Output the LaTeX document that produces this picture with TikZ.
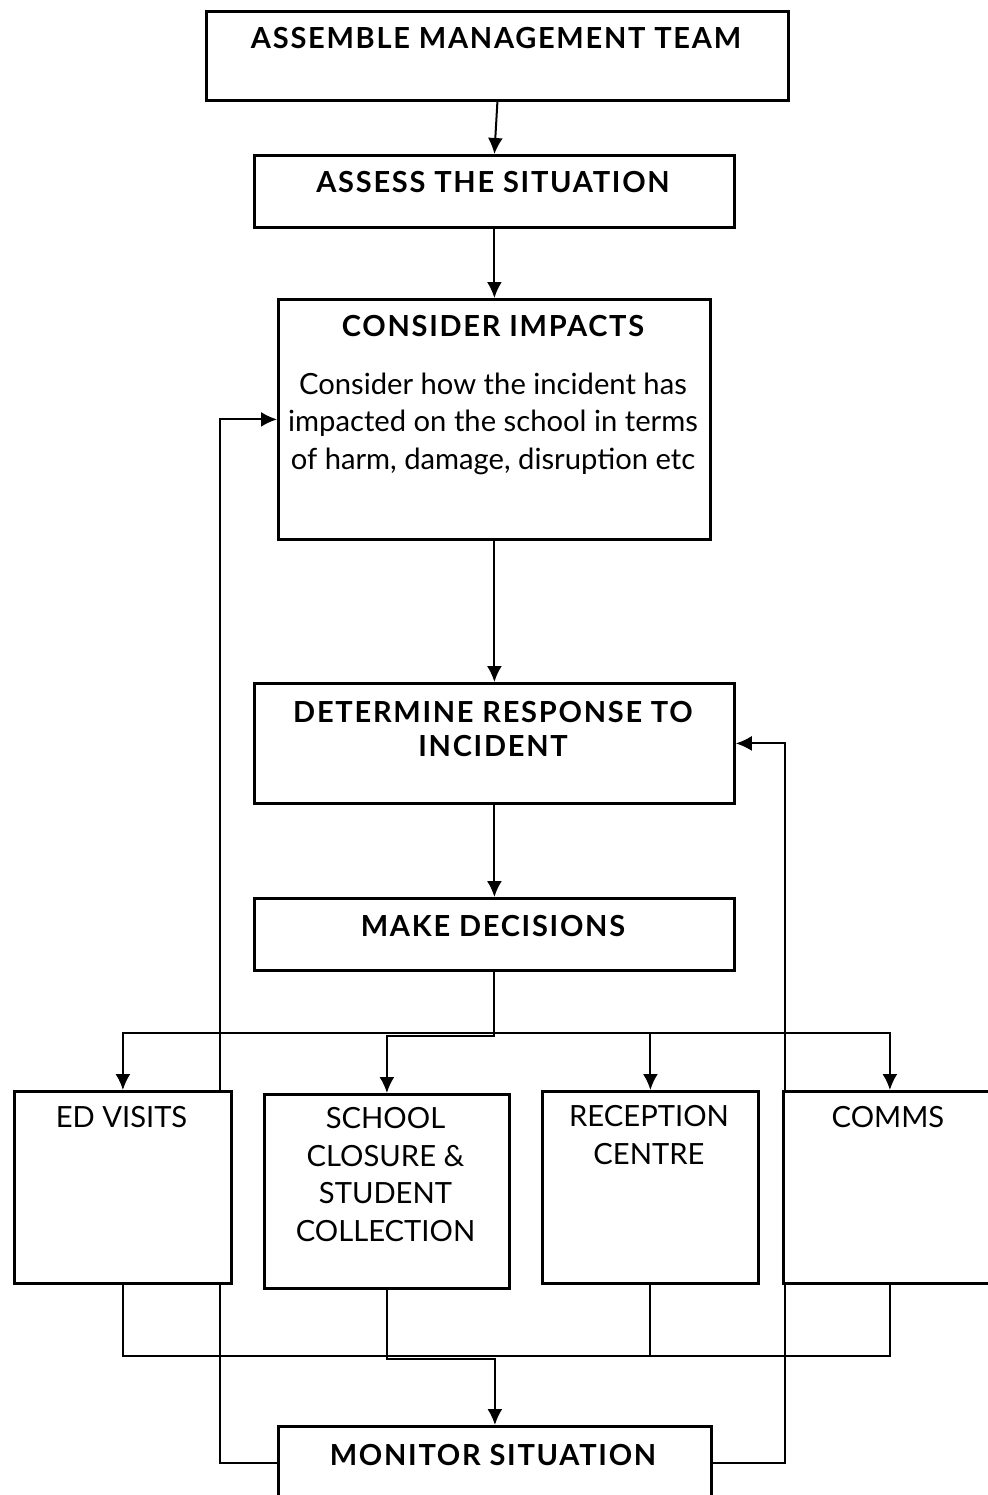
\documentclass[tikz,border=0pt]{standalone}
\usepackage{fontspec}
\setmainfont{Lato}
\newfontfamily\headfont[LetterSpace=6]{Lato}
\usetikzlibrary{arrows.meta,backgrounds}

\tikzset{
  box/.style={draw, line width=1.4pt, fill=white, inner sep=0pt, anchor=north west},
  head/.style={font=\headfont\bfseries\fontsize{14.5}{17}\selectfont, align=center, inner sep=0pt, anchor=base},
  txt/.style={font=\fontsize{14.6}{18.7}\selectfont, align=center, inner sep=0pt, anchor=base},
  link/.style={line width=1pt},
  arr/.style={link, -{Latex[length=8pt,width=7.5pt]}}
}

\begin{document}
\begin{tikzpicture}[x=0.5pt, y=-0.5pt]
\useasboundingbox (0,0) rectangle (987,1495);

% boxes
\node[box, minimum width=291pt, minimum height=44.5pt] (assemble) at (205,10) {};
\node[box, minimum width=240pt, minimum height=36pt] (assess) at (253,154) {};
\node[box, minimum width=216pt, minimum height=120pt] (consider) at (277,298) {};
\node[box, minimum width=240pt, minimum height=60pt] (determine) at (253,682) {};
\node[box, minimum width=240pt, minimum height=36pt] (decide) at (253,897) {};
\node[box, minimum width=108.5pt, minimum height=96pt] (edvisits) at (13,1090) {};
\node[box, minimum width=122.5pt, minimum height=97pt] (school) at (263,1093) {};
\node[box, minimum width=108pt, minimum height=96pt] (reception) at (541,1090) {};
\node[box, minimum width=106.5pt, minimum height=96pt] (comms) at (782,1090) {};
\node[box, minimum width=216.5pt, minimum height=37pt] (monitor) at (277,1425) {};

% texts (base = last line)
\node[head] (assembletxt) at (496,48) {ASSEMBLE MANAGEMENT TEAM};
\node[head] (assesstxt) at (493,192) {ASSESS THE SITUATION};
\node[head] (considertxt) at (493,336) {CONSIDER IMPACTS};
\node[txt] (considerbody) at (493,469) {Consider how the incident has\\impacted on the school in terms\\of harm, damage, disruption etc};
\node[head] (determinetxt) at (493,756) {DETERMINE RESPONSE TO\\INCIDENT};
\node[head] (decidetxt) at (493,936) {MAKE DECISIONS};
\node[txt] (edtxt) at (121.5,1127) {ED VISITS};
\node[txt] (schooltxt) at (385.5,1241) {SCHOOL\\CLOSURE \&\\STUDENT\\COLLECTION};
\node[txt] (receptiontxt) at (649,1164) {RECEPTION\\CENTRE};
\node[txt] (commstxt) at (888,1127) {COMMS};
\node[head] (monitortxt) at (493,1465) {MONITOR SITUATION};

\begin{scope}[on background layer]
\draw[arr] (assemble.south) -- (assess.north);
\draw[arr] (assess) -- (consider);
\draw[arr] (consider) -- (determine);
\draw[arr] (determine) -- (decide);

\draw[arr] (decide.south) -- ++(0,61) -| (edvisits.north);
\draw[arr] (decide.south) -- ++(0,64) -| (school.north);
\draw[arr] (decide.south) -- ++(0,61) -| (reception.north);
\draw[arr] (decide.south) -- ++(0,61) -| (comms.north);

\draw[link] (edvisits.south) -- ++(0,71) -| (comms.south);
\draw[link] (reception.south) -- ++(0,71);
\draw[arr] (school.south) -- ++(0,69) -| (monitor.north);

% feedback loops
\draw[arr] (monitor.west) -- ++(-57,0) |- (consider.west);
\draw[arr] (monitor.east) -- ++(72,0) |- (determine.east);
\end{scope}
\end{tikzpicture}
\end{document}
